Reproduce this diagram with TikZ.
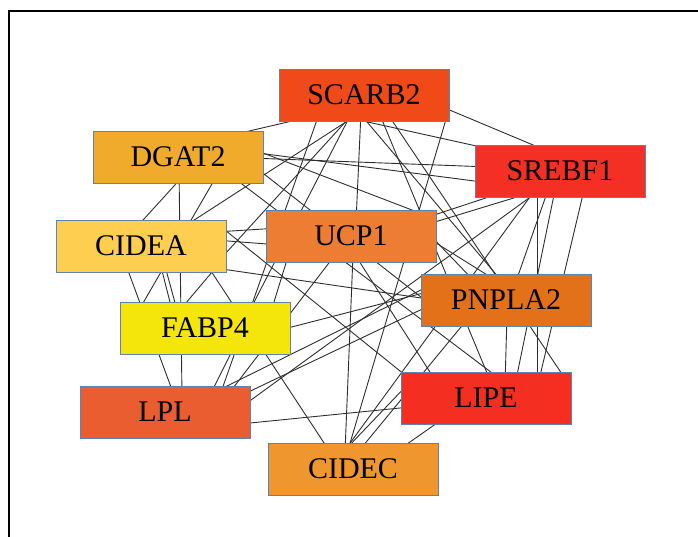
\documentclass[tikz,border=0pt]{standalone}
\usepackage{fontspec}
\setmainfont{Liberation Serif}
\usepackage{tikz}
\usetikzlibrary{calc, backgrounds}
\definecolor{ScarbRed}{HTML}{EF4A17}
\definecolor{DgatGold}{HTML}{F0AB2C}
\definecolor{CideaSand}{HTML}{FECE51}
\definecolor{UcpOrange}{HTML}{EC7D33}
\definecolor{SrebfRed}{HTML}{F42F23}
\definecolor{FabpYellow}{HTML}{F4E60A}
\definecolor{LplRed}{HTML}{EA5D31}
\definecolor{CidecOrange}{HTML}{F0962F}
\definecolor{PnplaOrange}{HTML}{E2711A}
\definecolor{LipeRed}{HTML}{F52E22}
\definecolor{BoxBlue}{HTML}{5B84B1}

\begin{document}
\begin{tikzpicture}[x=1pt, y=-1pt,
    genebox/.style={rectangle, draw=BoxBlue, line width=0.8pt, minimum width=170pt, minimum height=52pt,
                inner sep=0pt, font=\fontsize{30}{32}\selectfont, text=black},
    link/.style={draw=black!82, line width=0.9pt}
]
    \useasboundingbox (0,0) rectangle (698,537);

    % Frame
    \draw[line width=2.2pt] (8.7,537) -- (8.7,11.2) -- (698,11.2);

    % Hub genes
    \node[genebox, fill=ScarbRed] (scarb2) at (364,95) {SCARB2};
    \node[genebox, fill=DgatGold] (dgat2) at (178,157) {DGAT2};
    \node[genebox, fill=CideaSand] (cidea) at (141,246) {CIDEA};
    \node[genebox, fill=UcpOrange] (ucp1) at (351,236) {UCP1};
    \node[genebox, fill=SrebfRed] (srebf1) at (560,171) {SREBF1};
    \node[genebox, fill=FabpYellow] (fabp4) at (205,328) {FABP4};
    \node[genebox, fill=LplRed] (lpl) at (165,412) {LPL};
    \node[genebox, fill=CidecOrange] (cidec) at (353,469) {CIDEC};
    \node[genebox, fill=PnplaOrange] (pnpla2) at (506,300) {PNPLA2};
    \node[genebox, fill=LipeRed] (lipe) at (486,398) {LIPE};

    % Interactions
    \begin{scope}[on background layer]
    \draw[link] ($(scarb2)+(-59,23)$) -- ($(dgat2)+(54,-22)$);
    \draw[link] ($(scarb2)+(76,11)$) -- ($(srebf1)+(-15,-21)$);
    \draw[link] ($(scarb2)+(-19,22)$) -- ($(srebf1)+(-70,-22)$);
    \draw[link] ($(scarb2)+(-3,17)$) -- ($(ucp1)+(5,-14)$);
    \draw[link] ($(scarb2)+(83,21)$) -- ($(cidec)+(-5,-19)$);
    \draw[link] ($(scarb2)+(-2,21)$) -- ($(pnpla2)+(-1,-15)$);
    \draw[link] ($(scarb2)+(16,20)$) -- ($(lipe)+(6,-13)$);
    \draw[link] ($(scarb2)+(25,21)$) -- ($(lipe)+(80,-18)$);
    \draw[link] ($(scarb2)+(-12,23)$) -- ($(cidea)+(44,-20)$);
    \draw[link] ($(scarb2)+(-15,23)$) -- ($(cidea)+(74,19)$);
    \draw[link] ($(scarb2)+(-15,23)$) -- ($(fabp4)+(45,-18)$);
    \draw[link] ($(scarb2)+(-46,22)$) -- ($(lpl)+(55,-17)$);

    \draw[link] ($(dgat2)+(72,1)$) -- ($(srebf1)+(-70,-4)$);
    \draw[link] ($(dgat2)+(72,-5)$) -- ($(srebf1)+(-70,12)$);
    \draw[link] ($(dgat2)+(6,18)$) -- ($(cidea)+(-7,-16)$);
    \draw[link] ($(dgat2)+(1,13)$) -- ($(lpl)+(17,-17)$);
    \draw[link] ($(dgat2)+(38,20)$) -- ($(fabp4)+(-66,-18)$);
    \draw[link] ($(dgat2)+(72,-9)$) -- ($(ucp1)+(74,-21)$);
    \draw[link] ($(dgat2)+(52,18)$) -- ($(lipe)+(14,-19)$);
    \draw[link] ($(dgat2)+(72,6)$) -- ($(pnpla2)+(-66,12)$);

    \draw[link] ($(cidea)+(-22,0)$) -- ($(lpl)+(10,-14)$);
    \draw[link] ($(cidea)+(17,9)$) -- ($(fabp4)+(-33,-18)$);
    \draw[link] ($(cidea)+(21,9)$) -- ($(fabp4)+(-28,-18)$);
    \draw[link] ($(cidea)+(77,19)$) -- ($(fabp4)+(-25,-18)$);
    \draw[link] ($(cidea)+(66,19)$) -- ($(cidec)+(-23,-17)$);
    \draw[link] ($(cidea)+(74,-14)$) -- ($(ucp1)+(-71,-8)$);
    \draw[link] ($(cidea)+(74,-6)$) -- ($(ucp1)+(-71,9)$);
    \draw[link] ($(cidea)+(74,-24)$) -- ($(lipe)+(-76,-19)$);
    \draw[link] ($(cidea)+(74,22)$) -- ($(pnpla2)+(-71,0)$);

    \draw[link] ($(srebf1)+(-50,19)$) -- ($(ucp1)+(74,-18)$);
    \draw[link] ($(srebf1)+(-20,19)$) -- ($(ucp1)+(74,-11)$);
    \draw[link] ($(ucp1)+(77,-3)$) -- ($(pnpla2)+(-28,-15)$);
    \draw[link] ($(ucp1)+(77,2)$) -- ($(pnpla2)+(2,-12)$);
    \draw[link] ($(ucp1)+(1,14)$) -- ($(lipe)+(-51,-18)$);
    \draw[link] ($(ucp1)+(-16,19)$) -- ($(lpl)+(65,-20)$);
    \draw[link] ($(ucp1)+(-61,14)$) -- ($(fabp4)+(65,-13)$);
    \draw[link] ($(ucp1)+(2,19)$) -- ($(cidec)+(-8,-17)$);

    \draw[link] ($(fabp4)+(75,2)$) -- ($(pnpla2)+(-71,-10)$);
    \draw[link] ($(fabp4)+(30,17)$) -- ($(lpl)+(45,-17)$);
    \draw[link] ($(lpl)+(75,12)$) -- ($(lipe)+(-76,9)$);
    \draw[link] ($(lpl)+(75,-16)$) -- ($(pnpla2)+(-71,3)$);
    \draw[link] ($(lpl)+(58,-24)$) -- ($(pnpla2)+(-71,-17)$);
    \draw[link] ($(lpl)+(75,-4)$) -- ($(srebf1)+(-20,19)$);

    \draw[link] ($(cidec)+(-8,-19)$) -- ($(lipe)+(-76,-16)$);
    \draw[link] ($(cidec)+(47,-20)$) -- ($(lipe)+(-39,18)$);
    \draw[link] ($(srebf1)+(-25,19)$) -- ($(cidec)+(-8,-19)$);
    \draw[link] ($(pnpla2)+(-36,16)$) -- ($(cidec)+(5,-17)$);
    \draw[link] ($(srebf1)+(-23,19)$) -- ($(lipe)+(51,-18)$);
    \draw[link] ($(srebf1)+(-5,19)$) -- ($(lipe)+(30,-18)$);
    \draw[link] ($(srebf1)+(24,19)$) -- ($(lipe)+(53,-18)$);
    \draw[link] ($(srebf1)+(-12,19)$) -- ($(pnpla2)+(7,-10)$);
    \draw[link] ($(pnpla2)+(1,15)$) -- ($(lipe)+(19,-13)$);
    \end{scope}
\end{tikzpicture}
\end{document}
